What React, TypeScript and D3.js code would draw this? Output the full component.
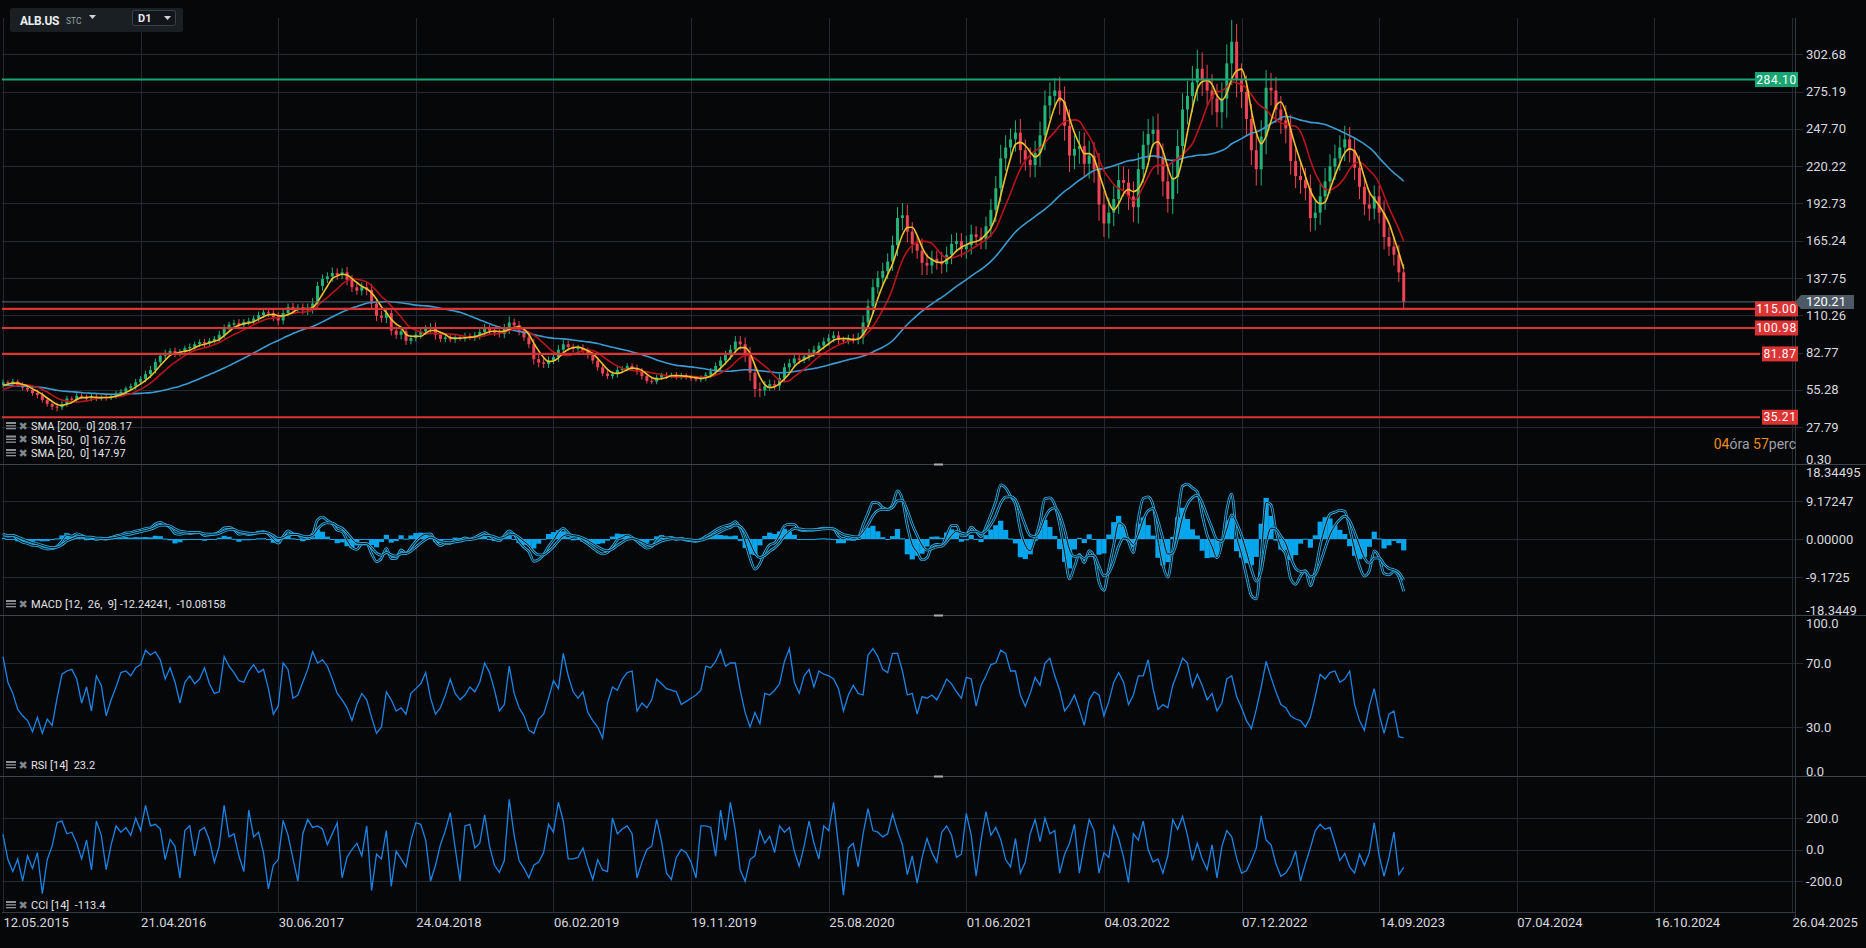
import * as d3 from 'd3';
import { useRef, useEffect } from 'react';

const W = 1866;
const H = 948;

// closes before the first visible bar, only used to warm up the averages
const warmup = [63, 64, 62, 61, 62, 63, 61, 60, 62, 64, 63, 61, 58, 57, 59, 60, 58, 56, 55, 57,
	56, 54, 52, 51, 53, 55, 57, 58, 59];

// ALB.US closes, one sample per ~7 sessions (12.05.2015 .. 10.2023)
const closes = [
	61, 60, 61.5, 59, 57, 55.5, 53, 51.5, 48, 45,
	43, 42.5, 45, 49, 48, 51, 50.5, 49, 50.5, 49,
	50, 49.5, 51, 52.5, 54, 56.5, 58, 61, 63.5, 67,
	70, 76, 80.5, 82.5, 84, 82, 83.5, 86, 87, 89,
	90.5, 89.5, 91.5, 93, 96, 101, 103.5, 104.5, 103, 105.5,
	106, 108, 110.5, 112.5, 112, 109, 106.5, 112, 116.5, 115,
	116, 114, 115.5, 119, 132, 137, 139, 141.5, 140, 142,
	136.5, 131, 128.5, 131, 129, 119, 110, 108.5, 112, 99,
	96, 98.5, 91.5, 93.5, 96, 98.5, 100.5, 101.5, 96, 93,
	94, 92.5, 94, 93.5, 95, 94, 95.5, 98, 100.5, 99,
	97.5, 96.5, 101, 105, 103, 98.5, 94, 89, 78, 75.5,
	74.5, 77, 79.5, 85, 89, 87, 85.5, 86.5, 84, 81,
	77, 72, 67.5, 65.5, 67, 70, 71, 73, 71.5, 69,
	65.5, 62, 61.5, 64.5, 66.5, 65.5, 66.5, 65, 66, 64.5,
	64, 63, 64, 66.5, 69, 73, 77, 81, 85, 91,
	89, 81, 68, 56, 55, 58, 59.5, 58.5, 64, 72,
	75, 78.5, 77.5, 80, 82.5, 85, 88, 91, 93.5, 95.5,
	92, 91.5, 93.5, 92.5, 94, 105, 117, 131, 138, 143,
	150, 162, 182, 184, 172, 163, 158, 149, 147, 152,
	150, 148, 155, 163, 165, 159, 162, 170, 168, 166,
	176, 188, 204, 226, 234, 240, 245, 232, 225, 221,
	230, 243, 265, 272, 276, 268, 250, 228, 233, 235,
	222, 228, 218, 192, 178, 186, 196, 210, 208, 198,
	190, 218, 236, 244, 247, 226, 209, 196, 212, 235,
	262, 272, 282, 292, 284, 276, 270, 260, 270, 296,
	312, 284, 275, 255, 232, 218, 242, 278, 276, 262,
	254, 248, 224, 213, 210, 204, 182, 186, 198, 209,
	220, 226, 234, 240, 232, 219, 205, 192, 189, 198,
	186, 168, 161, 155, 142, 120.21
];

// how far the bar's wicks reach beyond its body, in dollars
const wicks = [
	2, 1.5, 2, 1.5, 2, 1.5, 2, 2.5, 2, 2,
	2.5, 3, 2, 2, 1.5, 2, 2, 1.5, 2, 2,
	1.5, 2, 1.5, 2, 2, 1.5, 2, 2.5, 2, 2.5,
	3, 2.5, 2, 2.5, 2, 2.5, 2, 2, 2.5, 2,
	2, 2.5, 2, 2, 3, 2.5, 2, 2.5, 3, 2,
	2.5, 2, 2.5, 2, 3, 3, 3.5, 3, 2.5, 3,
	2.5, 3, 3.5, 4, 3, 3.5, 3, 4, 3.5, 3,
	4, 3.5, 3, 3.5, 4, 4.5, 4, 3.5, 4, 3.5,
	3, 3.5, 3, 2.5, 2.5, 3, 2.5, 3, 3.5, 2.5,
	2.5, 2, 2.5, 2, 2.5, 2, 2.5, 3, 3.5, 2.5,
	2.5, 2.5, 3, 4.5, 3, 3, 2.5, 3, 4, 3.5,
	3, 3, 2.5, 3.5, 3, 2.5, 2.5, 2, 2.5, 2.5,
	2.5, 2.5, 2, 2, 2, 2.5, 2, 2, 2, 2.5,
	2.5, 2, 2, 2, 1.5, 2, 1.5, 2, 2, 1.5,
	2, 1.5, 2, 2, 2.5, 2.5, 3, 3, 3.5, 4,
	4, 5, 6, 6, 5, 4, 3.5, 3, 3.5, 3,
	3, 2.5, 3, 2.5, 3, 3, 2.5, 3, 3, 3,
	3, 2.5, 2.5, 3, 3.5, 5, 5, 6, 5, 6,
	6, 7, 8, 9, 8, 7, 6, 9, 7, 6,
	6, 7, 6, 7, 6, 6, 7, 7, 6, 7,
	7, 8, 9, 10, 9, 8, 9, 10, 8, 9,
	9, 10, 11, 10, 9, 10, 11, 12, 10, 11,
	10, 11, 10, 12, 10, 11, 10, 11, 10, 10,
	11, 12, 10, 11, 10, 12, 11, 10, 11, 12,
	12, 11, 12, 14, 12, 11, 12, 11, 12, 14,
	16, 13, 12, 12, 11, 12, 12, 13, 11, 10,
	10, 11, 10, 9, 10, 9, 10, 9, 9, 10,
	9, 10, 9, 10, 9, 9, 9, 8, 9, 8,
	8, 9, 7, 8, 7, 6
];

// RSI [14] read per bar
const rsiValues = [
	74, 58, 51, 41, 37, 34, 27, 36, 26, 35,
	31, 48, 63, 65, 66, 60, 45, 55, 40, 62,
	56, 37, 47, 55, 64, 65, 62, 67, 69, 78,
	75, 77, 72, 60, 67, 58, 45, 58, 62, 57,
	60, 67, 57, 51, 52, 74, 68, 64, 59, 58,
	65, 69, 64, 66, 54, 38, 43, 70, 66, 48,
	50, 58, 66, 77, 70, 72, 68, 60, 51, 47,
	42, 34, 44, 51, 47, 36, 26, 30, 52, 47,
	40, 42, 38, 51, 54, 57, 64, 48, 38, 42,
	50, 60, 51, 47, 50, 55, 52, 58, 70, 64,
	53, 40, 44, 68, 51, 42, 37, 28, 26, 35,
	38, 48, 59, 54, 76, 62, 52, 48, 52, 39,
	34, 30, 23, 45, 55, 53, 60, 64, 65, 40,
	45, 42, 47, 60, 57, 54, 53, 52, 44, 46,
	48, 50, 53, 68, 67, 71, 78, 68, 70, 70,
	53, 39, 30, 39, 32, 51, 50, 53, 57, 71,
	79, 58, 51, 62, 66, 55, 65, 63, 62, 60,
	54, 40, 50, 56, 51, 50, 75, 79, 74, 66,
	64, 76, 76, 65, 50, 51, 38, 49, 48, 50,
	47, 53, 60, 57, 52, 48, 61, 60, 43, 56,
	62, 69, 70, 78, 76, 65, 65, 50, 43, 51,
	61, 56, 70, 73, 62, 53, 40, 44, 50, 41,
	31, 47, 52, 50, 37, 46, 58, 64, 58, 44,
	50, 62, 62, 72, 54, 41, 44, 42, 56, 64,
	73, 70, 55, 63, 56, 47, 51, 40, 45, 60,
	62, 49, 42, 34, 29, 41, 55, 71, 61, 52,
	44, 42, 37, 35, 34, 30, 36, 49, 63, 60,
	64, 65, 58, 60, 65, 44, 34, 28, 43, 54,
	38, 26, 38, 40, 24, 23.2
];

// CCI [14] read per bar
const cciValues = [
	96, -64, -140, -60, -200, -40, -120, -20, -280, -64,
	21, 170, 180, 100, 110, 40, -60, 60, -130, 180,
	90, -128, 30, 149, 110, 140, 90, 200, 120, 280,
	150, 160, 130, -64, 64, 20, -180, 120, 150, -40,
	120, 140, 60, -80, 21, 280, 80, 100, -40, -140,
	250, 80, 110, -20, -250, -100, -64, 185, 90, -60,
	-200, 100, 190, 140, 150, 130, 30, 100, 170, -180,
	-50, 0, 40, -40, 150, -260, -30, -60, 120, -234,
	-10, -60, -110, 60, 170, 160, 60, -200, -100, 30,
	120, 234, 10, -200, 150, 160, 10, 40, 220, 20,
	-100, -145, -70, 319, 90, -70, -120, -180, -100, -80,
	-20, 160, 110, 300, 180, -60, -60, -50, 10, -100,
	-191, -64, -130, -140, 200, 100, 130, 150, 100, -180,
	-80, 0, 21, 191, 50, -150, -190, -50, 0, -20,
	-80, -180, 150, 150, 140, -43, 250, 60, 300, 120,
	-130, -202, -64, -40, 120, 40, 85, -20, 150, 110,
	140, -10, -106, 21, 180, 40, -60, 150, 120, 300,
	20, -290, 10, 40, -110, 100, 260, 120, 110, 80,
	100, 225, 120, 30, -160, -40, -213, -50, 70, -20,
	-80, 110, 150, 90, -50, -30, 230, 90, -170, 60,
	240, 90, 140, 64, -64, -110, 70, -150, -80, 100,
	190, 50, 200, 100, 120, -150, -30, 40, 160, -150,
	30, 191, 120, -150, -20, -50, 150, 70, -50, -210,
	100, 60, 180, 0, -80, -60, -150, -40, 190, 128,
	210, 90, -70, 40, -60, -128, 30, -180, 20, 120,
	80, -55, -150, -135, -70, 10, 213, 60, 30, -90,
	-170, -150, -100, -10, -200, -90, 10, 120, 160, 128,
	140, 40, -70, -25, -110, -150, -30, -100, -21, 170,
	-40, -170, -50, 110, -160, -113.4
];

const dateLabels = ['12.05.2015', '21.04.2016', '30.06.2017', '24.04.2018', '06.02.2019', '19.11.2019',
	'25.08.2020', '01.06.2021', '04.03.2022', '07.12.2022', '14.09.2023', '07.04.2024', '16.10.2024', '26.04.2025'];
const barsPerTick = 28;
const priceTicks = [302.68, 275.19, 247.70, 220.22, 192.73, 165.24, 137.75, 110.26, 82.77, 55.28, 27.79, 0.30];
const macdTicks = [18.34495, 9.17247, 0, -9.17247, -18.34495];
const macdTickLabels = ['18.34495', '9.17247', '0.00000', '-9.1725', '-18.3449'];
const rsiTicks = [100, 70, 30, 0];
const cciTicks = [200, 0, -200];
const levelValues = [284.10, 115.00, 100.98, 81.87, 35.21];
const levelColors = ['#17a673', '#dc3434', '#dc3434', '#dc3434', '#dc3434'];
const lastPrice = 120.21;
const smaWindows = [30, 8, 4]; // bars, ~200 / 50 / 20 sessions
const smaColors = ['#3b9bd0', '#b8141d', '#eec12c'];
const smaLegend = ['SMA [200,  0] 208.17', 'SMA [50,  0] 167.76', 'SMA [20,  0] 147.97'];
const macdLegend = 'MACD [12,  26,  9] -12.24241,  -10.08158';
const rsiLegend = 'RSI [14]  23.2';
const cciLegend = 'CCI [14]  -113.4';

const font = 'Roboto, "Noto Sans", sans-serif';

const draw = (el: SVGSVGElement) => {
	const svg = d3.select(el);
	svg.selectAll('*').remove();
	svg.append('rect').attr('width', W).attr('height', H).attr('fill', '#060708');

	const full = warmup.concat(closes);
	const off = warmup.length;
	const n = closes.length;
	const idx = d3.range(n);

	const x = d3.scaleLinear().domain([0, (dateLabels.length - 1) * barsPerTick]).range([3, 1792]);
	const yP = d3.scaleLinear().domain([0.30, 302.68]).range([464.6, 54.3]);
	const yM = d3.scaleLinear().domain([-18.34495, 18.34495]).range([615, 463]);
	const yR = d3.scaleLinear().domain([0, 100]).range([775, 615]);
	const yC = d3.scaleLinear().domain([-200, 200]).range([881, 818]);

	const panels = [[18, 464], [464, 615], [615, 776], [776, 912]];
	const defs = svg.append('defs');
	panels.forEach((p, i) => {
		defs.append('clipPath').attr('id', 'clip' + i)
			.append('rect').attr('x', 2).attr('y', p[0]).attr('width', 1793).attr('height', p[1] - p[0]);
	});

	const gridColor = '#232930';
	const grid = svg.append('g').attr('stroke', gridColor).attr('stroke-width', 1);
	dateLabels.forEach((_, i) => {
		const gx = Math.round(x(i * barsPerTick)) + 0.5;
		grid.append('line').attr('x1', gx).attr('x2', gx).attr('y1', 18).attr('y2', 912);
	});
	const hLine = (y: number) => grid.append('line')
		.attr('x1', 2).attr('x2', 1803).attr('y1', Math.round(y) + 0.5).attr('y2', Math.round(y) + 0.5);
	priceTicks.slice(0, -1).forEach(v => hLine(yP(v)));
	macdTicks.slice(1, -1).forEach(v => hLine(yM(v)));
	[70, 30].forEach(v => hLine(yR(v)));
	cciTicks.forEach(v => hLine(yC(v)));

	// panel separators and axis line
	[464, 615, 776].forEach(y => svg.append('line').attr('x1', 0).attr('x2', W)
		.attr('y1', y + 0.5).attr('y2', y + 0.5).attr('stroke', '#3c444d'));
	svg.append('line').attr('x1', 2).attr('x2', 1795).attr('y1', 912.5).attr('y2', 912.5).attr('stroke', '#323941');
	svg.append('line').attr('x1', 1795.5).attr('x2', 1795.5).attr('y1', 18).attr('y2', 918).attr('stroke', '#323941');
	[464, 615, 776].forEach(y => svg.append('rect').attr('x', 934).attr('y', y - 0.5)
		.attr('width', 9).attr('height', 2).attr('fill', '#a9adb1'));

	// ---- main panel: candles (open = previous close)
	const main = svg.append('g').attr('clip-path', 'url(#clip0)');
	const bw = 3;
	idx.forEach(i => {
		const o = full[off + i - 1];
		const c = full[off + i];
		const col = c >= o ? '#22b27a' : '#ee4457';
		const cx = x(i);
		main.append('line').attr('x1', cx).attr('x2', cx)
			.attr('y1', yP(Math.max(o, c) + wicks[i])).attr('y2', yP(Math.min(o, c) - wicks[i]))
			.attr('stroke', col).attr('stroke-width', 1);
		const top = yP(Math.max(o, c));
		const h = Math.max(1, Math.abs(yP(o) - yP(c)));
		main.append('rect')
			.attr('x', cx - bw / 2).attr('y', top).attr('width', bw).attr('height', h)
			.attr('fill', col);
	});

	const sma = (w: number) => idx.map(i => d3.mean(full.slice(off + i - w + 1, off + i + 1)) as number);
	const line = (ys: d3.ScaleLinear<number, number>) => d3.line<number>()
		.x((_, i) => x(i)).y(d => ys(d)).curve(d3.curveMonotoneX);
	smaWindows.forEach((w, k) => {
		main.append('path').datum(sma(w)).attr('d', line(yP))
			.attr('fill', 'none').attr('stroke', smaColors[k]).attr('stroke-width', 1.6);
	});

	// levels
	svg.append('line').attr('x1', 2).attr('x2', 1795).attr('y1', yP(lastPrice)).attr('y2', yP(lastPrice))
		.attr('stroke', '#5d6873').attr('stroke-width', 1);
	levelValues.forEach((v, k) => {
		svg.append('line').attr('x1', 2).attr('x2', 1760).attr('y1', yP(v)).attr('y2', yP(v))
			.attr('stroke', levelColors[k]).attr('stroke-width', 2.2);
	});

	// ---- MACD
	const ema = (arr: number[], a: number) => {
		const out: number[] = [];
		arr.forEach((v, i) => out.push(i === 0 ? v : out[i - 1] + a * (v - out[i - 1])));
		return out;
	};
	const fast = ema(full, 0.684);
	const slow = ema(full, 0.412);
	const macdFull = fast.map((v, i) => v - slow[i]);
	const sigFull = ema(macdFull, 0.4);
	const macd = macdFull.slice(off);
	const signal = sigFull.slice(off);
	const mg = svg.append('g').attr('clip-path', 'url(#clip1)');
	idx.forEach(i => {
		const hv = macd[i] - signal[i];
		mg.append('rect').attr('x', x(i) - 2.6).attr('width', 5.2)
			.attr('y', Math.min(yM(0), yM(hv))).attr('height', Math.max(1, Math.abs(yM(hv) - yM(0))))
			.attr('fill', '#05a6ee');
	});
	[macd, signal].forEach(s => {
		mg.append('path').datum(s).attr('d', line(yM)).attr('fill', 'none')
			.attr('stroke', '#2ea9df').attr('stroke-width', 2.8);
		mg.append('path').datum(s).attr('d', line(yM)).attr('fill', 'none')
			.attr('stroke', '#06090c').attr('stroke-width', 1);
	});

	// ---- RSI / CCI
	const plain = (ys: d3.ScaleLinear<number, number>) => d3.line<number>().x((_, i) => x(i)).y(d => ys(d));
	svg.append('g').attr('clip-path', 'url(#clip2)').append('path').datum(rsiValues)
		.attr('d', plain(yR)).attr('fill', 'none').attr('stroke', '#1c84e6').attr('stroke-width', 1.3);
	svg.append('g').attr('clip-path', 'url(#clip3)').append('path').datum(cciValues)
		.attr('d', plain(yC)).attr('fill', 'none').attr('stroke', '#1c84e6').attr('stroke-width', 1.3);

	// ---- right axis labels
	const labels = svg.append('g').attr('font-family', font).attr('font-size', 13)
		.attr('fill', '#d6dadf').attr('dominant-baseline', 'central');
	const clampY = (y: number, p: number[]) => Math.min(Math.max(y, p[0] + 8.5), p[1] - 4.5);
	priceTicks.forEach(v => labels.append('text').attr('x', 1806).attr('y', clampY(yP(v), panels[0])).text(v.toFixed(2)));
	macdTicks.forEach((v, k) => labels.append('text').attr('x', 1806).attr('y', clampY(yM(v), panels[1])).text(macdTickLabels[k]));
	rsiTicks.forEach(v => labels.append('text').attr('x', 1806).attr('y', clampY(yR(v), panels[2])).text(v.toFixed(1)));
	cciTicks.forEach(v => labels.append('text').attr('x', 1806).attr('y', yC(v)).text(v.toFixed(1)));

	// level tags
	levelValues.forEach((v, k) => {
		const t = v.toFixed(2);
		const bwid = t.length * 7 + 1;
		const y = yP(v);
		svg.append('rect').attr('x', 1798 - bwid).attr('y', y - 7.5).attr('width', bwid).attr('height', 15)
			.attr('fill', levelColors[k]);
		svg.append('text').attr('x', 1798 - bwid / 2).attr('y', y).attr('text-anchor', 'middle')
			.attr('dominant-baseline', 'central').attr('font-family', font).attr('font-size', 12)
			.attr('letter-spacing', 0.6).attr('fill', '#ffffff').text(t);
	});
	const ly = yP(lastPrice);
	svg.append('path')
		.attr('d', `M1795,${ly} L1801,${ly - 7} L1854,${ly - 7} L1854,${ly + 7} L1801,${ly + 7} Z`)
		.attr('fill', '#4d5964');
	svg.append('text').attr('x', 1806).attr('y', ly).attr('dominant-baseline', 'central')
		.attr('font-family', font).attr('font-size', 13).attr('fill', '#ffffff').text(lastPrice.toFixed(2));

	// countdown
	const cd = svg.append('text').attr('x', 1796).attr('y', 444).attr('text-anchor', 'end')
		.attr('dominant-baseline', 'central').attr('font-family', font).attr('font-size', 14);
	cd.append('tspan').attr('fill', '#ec8a1c').text('04');
	cd.append('tspan').attr('fill', '#9ea3a8').text('óra ');
	cd.append('tspan').attr('fill', '#ec8a1c').text('57');
	cd.append('tspan').attr('fill', '#9ea3a8').text('perc');

	// date labels
	dateLabels.forEach((d, i) => svg.append('text').attr('x', x(i * barsPerTick) + 0.5).attr('y', 922)
		.attr('dominant-baseline', 'central').attr('font-family', font).attr('font-size', 13)
		.attr('fill', '#d6dadf').text(d));

	// legends
	const legend = (y: number, text: string) => {
		const g = svg.append('g');
		[[-4, 2], [-0.8, 1.3], [2, 1.3]].forEach(r => g.append('rect').attr('x', 6).attr('y', y + r[0])
			.attr('width', 10).attr('height', r[1]).attr('fill', '#8d9298'));
		g.append('text').attr('x', 18.5).attr('y', y).attr('dominant-baseline', 'central')
			.attr('font-family', '"DejaVu Sans", sans-serif').attr('font-size', 11).attr('font-weight', 'bold')
			.attr('fill', '#80868c').text('✖');
		g.append('text').attr('x', 31).attr('y', y + 0.5).attr('dominant-baseline', 'central')
			.attr('font-family', font).attr('font-size', 11).attr('fill', '#e2e4e7')
			.style('white-space', 'pre').text(text);
	};
	smaLegend.forEach((t, k) => legend(426 + k * 13.5, t));
	legend(604, macdLegend);
	legend(765, rsiLegend);
	legend(905, cciLegend);

	// symbol box
	const box = svg.append('g').attr('font-family', font);
	box.append('rect').attr('x', 10).attr('y', 8).attr('width', 173).attr('height', 24).attr('rx', 2).attr('fill', '#1a1f24');
	box.append('text').attr('x', 20).attr('y', 20.5).attr('dominant-baseline', 'central').attr('font-size', 12)
		.attr('font-weight', 'bold').attr('letter-spacing', -0.3).attr('fill', '#eceff1').text('ALB.US');
	box.append('text').attr('x', 66).attr('y', 21).attr('dominant-baseline', 'central').attr('font-size', 8.5)
		.attr('fill', '#99a1a9').text('STC');
	box.append('path').attr('d', 'M89,15 L96,15 L92.5,19 Z').attr('fill', '#d0d5d9');
	box.append('rect').attr('x', 132.5).attr('y', 10.5).attr('width', 43).attr('height', 15).attr('rx', 2)
		.attr('fill', '#12161a').attr('stroke', '#39414a');
	box.append('text').attr('x', 138).attr('y', 18.5).attr('dominant-baseline', 'central').attr('font-size', 11)
		.attr('font-weight', 'bold').attr('fill', '#e6e8ea').text('D1');
	box.append('path').attr('d', 'M164,16 L171,16 L167.5,20 Z').attr('fill', '#d0d5d9');
};

const Chart = () => {
	const ref = useRef<SVGSVGElement>(null);
	useEffect(() => {
		if (ref.current) draw(ref.current);
	}, []);
	return (
		<svg ref={ref} width={W} height={H} style={{ position: 'fixed', left: 0, top: 0, display: 'block' }} />
	);
};

export default function App() {
	return <Chart />;
}
